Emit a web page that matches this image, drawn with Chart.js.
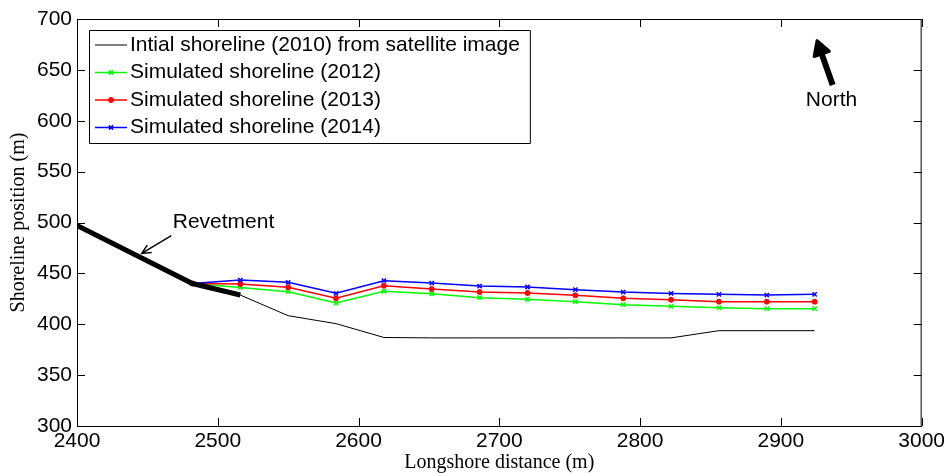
<!DOCTYPE html>
<html>
<head>
<meta charset="utf-8">
<script src="https://cdn.jsdelivr.net/npm/chart.js@4.4.1/dist/chart.umd.min.js"></script>
<style>
  html, body { margin: 0; padding: 0; background: #fff; }
</style>
</head>
<body>
<canvas id="shoreChart" width="950" height="476"></canvas>
<script>
// longshore positions (m)
const initX = [2400, 2482, 2516, 2550, 2584, 2618, 2652, 2686, 2720, 2754, 2788, 2822, 2856, 2890, 2924];
const initY = [497, 440, 428.7, 408.4, 400.6, 387, 386.6, 386.6, 386.6, 386.6, 386.6, 386.6, 393.7, 393.7, 393.7];

const simX = [2482, 2516, 2550, 2584, 2618, 2652, 2686, 2720, 2754, 2788, 2822, 2856, 2890, 2924];
const sim2012 = [440, 436.2, 432, 420.9, 432.4, 430, 426.1, 424.5, 422.2, 419.2, 417.6, 416.3, 415.3, 415.3];
const sim2013 = [440, 439.5, 436.3, 425.5, 437.8, 434.6, 431.6, 430.7, 428.4, 425.5, 424.1, 422.2, 422.2, 422.2];
const sim2014 = [440, 443.4, 441.2, 430.4, 442.8, 440.5, 437.5, 436.6, 434, 431.6, 430.3, 429.4, 428.7, 429.4];

const revetX = [2400, 2482, 2516];
const revetY = [497, 440, 428.7];

const xTicks = [2400, 2500, 2600, 2700, 2800, 2900, 3000];
const yTicks = [300, 350, 400, 450, 500, 550, 600, 650, 700];

const labels = [
  'Intial shoreline (2010) from satellite image',
  'Simulated shoreline (2012)',
  'Simulated shoreline (2013)',
  'Simulated shoreline (2014)'
];

const pts = (xs, ys) => xs.map((v, i) => ({ x: v, y: ys[i] }));
const SANS = '"Liberation Sans", Arial, sans-serif';
const SERIF = '"Liberation Serif", "Times New Roman", serif';

function arrow(ctx, x1, y1, x2, y2, len, ang) {
  const a = Math.atan2(y2 - y1, x2 - x1);
  ctx.beginPath();
  ctx.moveTo(x1, y1); ctx.lineTo(x2, y2);
  ctx.moveTo(x2 - len * Math.cos(a - ang), y2 - len * Math.sin(a - ang));
  ctx.lineTo(x2, y2);
  ctx.lineTo(x2 - len * Math.cos(a + ang), y2 - len * Math.sin(a + ang));
  ctx.stroke();
}

// box, inward ticks, notes and legend
const extras = {
  id: 'extras',
  afterDraw(chart) {
    const { ctx, chartArea: a, scales: { x, y } } = chart;
    ctx.save();
    ctx.strokeStyle = '#000';
    ctx.lineWidth = 1;
    ctx.strokeRect(a.left + 0.5, a.top + 0.5, a.right - a.left - 1, a.bottom - a.top);
    const tl = 8;
    ctx.beginPath();
    xTicks.forEach(v => {
      const px = Math.round(x.getPixelForValue(v)) + 0.5;
      ctx.moveTo(px, a.bottom); ctx.lineTo(px, a.bottom - tl);
      ctx.moveTo(px, a.top); ctx.lineTo(px, a.top + tl);
    });
    yTicks.forEach(v => {
      const py = Math.round(y.getPixelForValue(v)) + 0.5;
      ctx.moveTo(a.left, py); ctx.lineTo(a.left + tl, py);
      ctx.moveTo(a.right, py); ctx.lineTo(a.right - tl, py);
    });
    ctx.stroke();

    // Revetment note
    ctx.fillStyle = '#000';
    ctx.font = '21px ' + SANS;
    ctx.textAlign = 'left';
    ctx.textBaseline = 'middle';
    ctx.fillText('Revetment', x.getPixelForValue(2468), y.getPixelForValue(500));
    ctx.lineWidth = 1.5;
    arrow(ctx, x.getPixelForValue(2467), y.getPixelForValue(487),
      x.getPixelForValue(2446), y.getPixelForValue(469.6), 10, 0.45);

    // North arrow
    const tx = x.getPixelForValue(2936.8), ty = y.getPixelForValue(635.1);
    const hx = x.getPixelForValue(2925.7), hy = y.getPixelForValue(678.7);
    const ang = Math.atan2(hy - ty, hx - tx);
    const bx = hx - 14 * Math.cos(ang), by = hy - 14 * Math.sin(ang);
    ctx.lineWidth = 6;
    ctx.lineCap = 'butt';
    ctx.beginPath(); ctx.moveTo(tx, ty); ctx.lineTo(bx, by); ctx.stroke();
    ctx.lineJoin = 'round';
    ctx.lineWidth = 3;
    ctx.beginPath();
    ctx.moveTo(hx, hy);
    ctx.lineTo(bx + 8 * Math.sin(ang), by - 8 * Math.cos(ang));
    ctx.lineTo(bx - 8 * Math.sin(ang), by + 8 * Math.cos(ang));
    ctx.closePath();
    ctx.fill(); ctx.stroke();
    ctx.textAlign = 'center';
    ctx.fillText('North', x.getPixelForValue(2936), y.getPixelForValue(620));

    // legend
    const lx = a.left + 12, ly = a.top + 11, rowH = 27.5;
    ctx.font = '21px ' + SANS;
    const w = Math.max(...labels.map(t => ctx.measureText(t).width));
    ctx.fillStyle = '#fff';
    ctx.fillRect(lx, ly, 41 + w + 10, 113);
    ctx.strokeStyle = '#000';
    ctx.lineWidth = 1;
    ctx.strokeRect(lx + 0.5, ly + 0.5, 41 + w + 10, 113);
    chart.data.datasets.slice(0, 4).forEach((ds, i) => {
      const cy = ly + 15 + i * rowH;
      ctx.strokeStyle = ds.borderColor;
      ctx.lineWidth = ds.borderWidth;
      ctx.beginPath(); ctx.moveTo(lx + 6, cy); ctx.lineTo(lx + 38, cy); ctx.stroke();
      if (ds.pointRadius > 0) {
        ctx.fillStyle = ds.pointBackgroundColor;
        ctx.strokeStyle = ds.borderColor;
        ctx.lineWidth = ds.pointBorderWidth;
        Chart.helpers.drawPoint(ctx, { pointStyle: ds.pointStyle, radius: ds.pointRadius, rotation: 0, borderWidth: ds.pointBorderWidth }, lx + 22, cy);
      }
      ctx.fillStyle = '#000';
      ctx.textAlign = 'left';
      ctx.textBaseline = 'middle';
      ctx.fillText(ds.label, lx + 41, cy);
    });
    ctx.restore();
  }
};

new Chart(document.getElementById('shoreChart'), {
  type: 'line',
  data: {
    datasets: [{
      label: labels[0],
      data: pts(initX, initY),
      borderColor: '#000000',
      borderWidth: 1,
      pointRadius: 0,
      order: 4
    }, {
      label: labels[1],
      data: pts(simX, sim2012),
      borderColor: '#00ff00',
      pointBackgroundColor: '#00ff00',
      borderWidth: 1.5,
      pointStyle: 'crossRot',
      pointRadius: 3,
      pointBorderWidth: 1.5,
      order: 3
    }, {
      label: labels[2],
      data: pts(simX, sim2013),
      borderColor: '#ff0000',
      pointBackgroundColor: '#ff0000',
      borderWidth: 1.5,
      pointStyle: 'circle',
      pointRadius: 2.5,
      pointBorderWidth: 1,
      order: 2
    }, {
      label: labels[3],
      data: pts(simX, sim2014),
      borderColor: '#0000ff',
      pointBackgroundColor: '#0000ff',
      borderWidth: 1.5,
      pointStyle: 'crossRot',
      pointRadius: 3,
      pointBorderWidth: 1.5,
      order: 1
    }, {
      label: 'Revetment',
      data: pts(revetX, revetY),
      borderColor: '#000000',
      borderWidth: 5,
      borderCapStyle: 'butt',
      pointRadius: 0,
      order: 0
    }]
  },
  options: {
    responsive: false,
    animation: false,
    events: [],
    layout: { padding: { left: 0, right: 27, top: 19, bottom: 0 } },
    plugins: { legend: { display: false }, tooltip: { enabled: false } },
    scales: {
      x: {
        type: 'linear',
        min: 2400, max: 3000,
        afterBuildTicks: s => { s.ticks = xTicks.map(v => ({ value: v })); },
        afterFit: s => { s.height = 50; },
        grid: { display: false, drawTicks: false },
        border: { display: false },
        ticks: { color: '#000', padding: 5, maxRotation: 0, callback: v => String(v), font: { family: SANS, size: 21, lineHeight: 1 } },
        title: { display: true, text: 'Longshore distance (m)', color: '#000', padding: { top: 0, bottom: 1 }, font: { family: SERIF, size: 20 } }
      },
      y: {
        min: 300, max: 700,
        afterBuildTicks: s => { s.ticks = yTicks.map(v => ({ value: v })); },
        afterFit: s => { s.width = 77; },
        grid: { display: false, drawTicks: false },
        border: { display: false },
        ticks: { color: '#000', padding: 5, callback: v => String(v), font: { family: SANS, size: 21, lineHeight: 1 } },
        title: { display: true, text: 'Shoreline position (m)', color: '#000', padding: { top: 7, bottom: 0 }, font: { family: SERIF, size: 20 } }
      }
    }
  },
  plugins: [extras]
});
</script>
</body>
</html>
